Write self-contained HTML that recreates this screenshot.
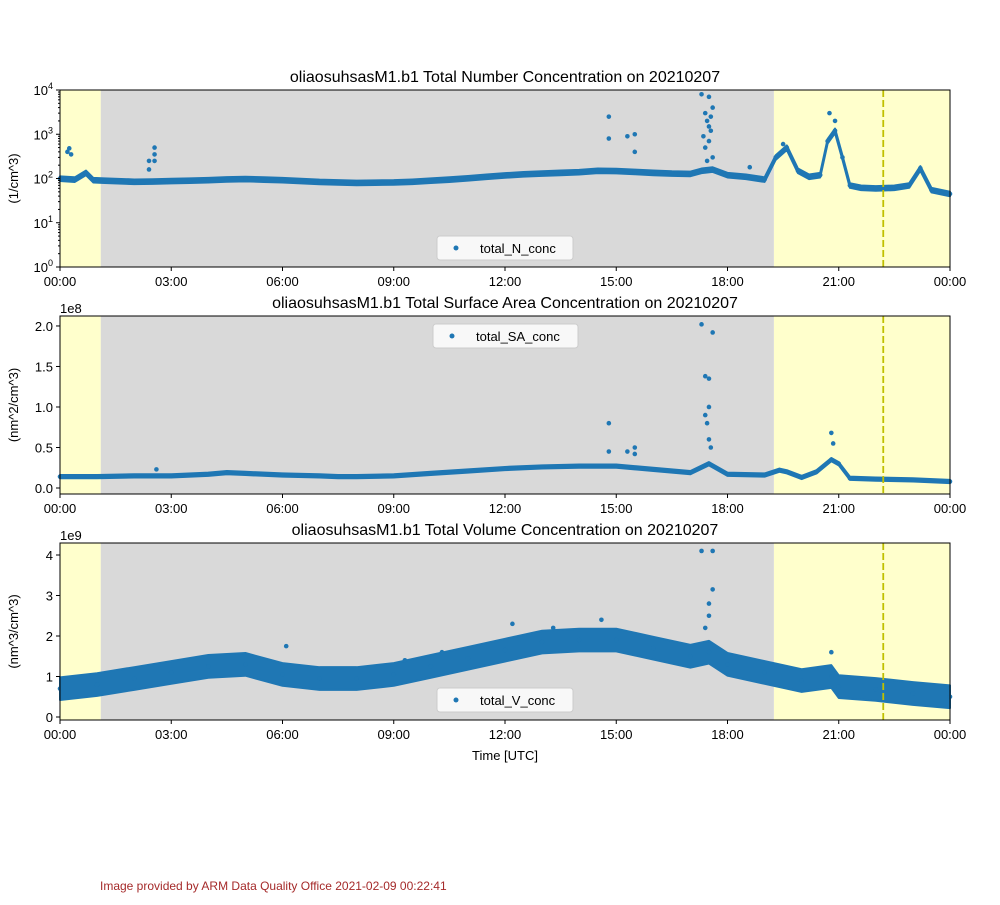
<!DOCTYPE html>
<html><head><meta charset="utf-8"><style>
body{margin:0;background:#fff;}
svg text{font-family:"Liberation Sans",sans-serif;fill:#000;}
</style></head><body>
<svg id="chart" width="1000" height="900" xmlns="http://www.w3.org/2000/svg"></svg>
<script>
// ---- data ----
const xTickLabels = ["00:00","03:00","06:00","09:00","12:00","15:00","18:00","21:00","00:00"];
const yellowSpans = [[0,1.1],[19.25,24]];
const graySpans = [[1.1,19.25]];
const dashedHour = 22.2;
// panel 1: total_N_conc (1/cm^3)
const nTimes = [0,0.4,0.7,0.9,1.2,2,2.5,3,3.5,4,4.5,5,5.5,6,6.5,7,7.5,8,8.5,9,9.5,10,10.5,11,11.5,12,12.5,13,13.5,14,14.5,15,15.5,16,16.5,17,17.3,17.6,18,18.5,19,19.3,19.6,19.9,20.2,20.5,20.7,20.9,21.1,21.3,21.6,22,22.5,22.9,23.2,23.5,24];
const nVals  = [100,95,135,92,90,85,86,88,90,92,96,98,95,92,88,84,82,80,81,82,85,90,95,102,110,118,125,130,135,140,150,148,142,135,130,128,150,160,120,110,95,300,500,150,110,120,700,1200,300,70,62,60,62,70,170,55,45];
const nOutT = [0.2,0.25,0.3,2.4,2.4,2.55,2.55,2.55,14.8,14.8,15.3,15.5,15.5,17.3,17.5,17.4,17.5,17.6,17.4,17.45,17.55,17.35,17.5,17.6,20.75,20.9,19.5,18.6,17.45,17.55];
const nOutV = [400,480,350,250,160,500,350,250,2500,800,900,1000,400,8000,7000,3000,1500,4000,500,2000,1200,900,700,300,3000,2000,600,180,250,2500];
// panel 2: total_SA_conc (1e8 nm^2/cm^3)
const sTimes = [0,1,2,3,4,4.5,5,6,7,7.5,8,9,10,11,12,13,14,15,16,17,17.5,18,19,19.4,19.6,20,20.4,20.8,21,21.3,22,23,24];
const sVals  = [0.14,0.14,0.15,0.15,0.17,0.19,0.18,0.16,0.15,0.14,0.14,0.15,0.18,0.21,0.24,0.26,0.27,0.27,0.23,0.19,0.3,0.17,0.16,0.22,0.2,0.13,0.2,0.35,0.3,0.12,0.11,0.1,0.08];
const sOutT = [17.3,17.6,17.4,17.5,17.5,17.45,17.5,14.8,14.8,15.3,15.5,15.5,20.8,20.85,2.6,17.4,17.55];
const sOutV = [2.02,1.92,1.38,1.35,1.0,0.8,0.6,0.8,0.45,0.45,0.5,0.42,0.68,0.55,0.23,0.9,0.5];
// panel 3: total_V_conc (1e9 nm^3/cm^3)
const vTimes = [0,1,2,3,4,5,6,7,8,9,10,11,12,13,14,15,16,17,17.5,18,19,20,20.8,21,22,23,24];
const vVals  = [0.7,0.8,0.95,1.1,1.25,1.3,1.05,0.95,0.95,1.05,1.25,1.45,1.65,1.85,1.9,1.9,1.7,1.5,1.6,1.3,1.1,0.9,1.0,0.75,0.68,0.58,0.5];
const vOutT = [17.3,17.6,17.6,17.5,17.5,17.4,20.8,6.1,12.2,14.6,10.3,9.3,13.3];
const vOutV = [4.1,4.1,3.15,2.8,2.5,2.2,1.6,1.75,2.3,2.4,1.6,1.4,2.2];

const svg = document.getElementById('chart');
const NS = 'http://www.w3.org/2000/svg';
function mk(tag, attrs, parent){const e=document.createElementNS(NS,tag);for(const k in attrs)e.setAttribute(k,attrs[k]);(parent||svg).appendChild(e);return e;}
const X0=60,X1=950;
const xs = h => X0 + h/24*(X1-X0);
const BLUE = '#1f77b4';

function panel(opt){
  const g = mk('g',{});
  
  
  const top=opt.top, bot=opt.bot;
  yellowSpans.forEach(s=>{const r=mk('rect',{x:xs(s[0]),y:top,width:xs(s[1])-xs(s[0]),height:bot-top,fill:'#ffffcc'},g);
    });
  graySpans.forEach(s=>{const r=mk('rect',{x:xs(s[0]),y:top,width:xs(s[1])-xs(s[0]),height:bot-top,fill:'#d9d9d9'},g);
    });
  const ys = opt.y;
  let up=[],lo=[];
  opt.t.forEach((t,i)=>{up.push(xs(t)+','+ys(opt.v[i]*opt.hi(opt.v[i])));lo.unshift(xs(t)+','+ys(opt.v[i]*opt.lo(opt.v[i])));});
  const band=mk('polygon',{points:up.concat(lo).join(' '),fill:BLUE,stroke:BLUE,'stroke-width':2,'stroke-linejoin':'round'},g);
  
  opt.t.forEach((t,i)=>{const c=mk('circle',{cx:xs(t),cy:ys(opt.v[i]),r:2.3,fill:BLUE},g);
    });
  opt.ot.forEach((t,i)=>{const c=mk('circle',{cx:xs(t),cy:ys(opt.ov[i]),r:2.3,fill:BLUE},g);
    });
  const dl=mk('line',{x1:xs(dashedHour),x2:xs(dashedHour),y1:top,y2:bot,stroke:'#bfbf00','stroke-width':1.8,'stroke-dasharray':'7,3'},g);
  
  mk('rect',{x:X0,y:top,width:X1-X0,height:bot-top,fill:'none',stroke:'#000','stroke-width':1},g);
  xTickLabels.forEach((l,i)=>{const x=xs(i*3);mk('line',{x1:x,x2:x,y1:bot,y2:bot+4,stroke:'#000'},g);
    const t=mk('text',{x:x,y:bot+19,'text-anchor':'middle','font-size':13},g);t.textContent=l;
    });
  opt.yticks.forEach(tk=>{const y=ys(tk.v);mk('line',{x1:X0-4,x2:X0,y1:y,y2:y,stroke:'#000'},g);
    const t=mk('text',{x:X0-7,y:y+5,'text-anchor':'end','font-size':13},g);
    
    if(tk.sup!==undefined){const a=mk('tspan',{},t);a.textContent='10';const b=mk('tspan',{dy:-6,'font-size':9},t);b.textContent=tk.sup;}
    else t.textContent=tk.l;});
  if(opt.minor) opt.minor.forEach(v=>{const y=ys(v);mk('line',{x1:X0-2,x2:X0,y1:y,y2:y,stroke:'#000'},g);});
  const ti=mk('text',{x:505,y:top-8,'text-anchor':'middle','font-size':16},g);ti.textContent=opt.title;
  
  const cy=(top+bot)/2;
  const yl=mk('text',{x:18,y:cy,'text-anchor':'middle','font-size':13,transform:`rotate(-90 18 ${cy})`},g);yl.textContent=opt.ylabel;
  
  if(opt.offset){const o=mk('text',{x:X0,y:top-3,'font-size':13},g);o.textContent=opt.offset;
    }
  const lg=mk('g',{},g);
  mk('rect',{x:opt.lx,y:opt.ly,width:opt.lw,height:24,rx:3,fill:'#fff','fill-opacity':0.8,stroke:'#ccc'},lg);
  mk('circle',{cx:opt.lx+19,cy:opt.ly+12,r:2.5,fill:BLUE},lg);
  const lt=mk('text',{x:opt.lx+43,y:opt.ly+17,'font-size':13},lg);lt.textContent=opt.legend;
}
const logY=(top,bot)=>v=>bot-(Math.log10(Math.max(v,1)))/4*(bot-top);
const linY=(top,bot,mn,mx)=>v=>bot-(v-mn)/(mx-mn)*(bot-top);
let minorN=[];for(let d=0;d<4;d++)for(let k=2;k<10;k++)minorN.push(k*Math.pow(10,d));
panel({name:'number-concentration-panel',top:90,bot:267,y:logY(90,267),t:nTimes,v:nVals,ot:nOutT,ov:nOutV,
  hi:v=>1.12,lo:v=>0.88,yticks:[0,1,2,3,4].map(d=>({v:Math.pow(10,d),sup:String(d)})),minor:minorN,
  title:'oliaosuhsasM1.b1 Total Number Concentration on 20210207',ylabel:'(1/cm^3)',legend:'total_N_conc',lx:437,ly:236,lw:136});
panel({name:'surface-area-panel',top:316,bot:494,y:linY(316,494,-0.074,2.123),t:sTimes,v:sVals,ot:sOutT,ov:sOutV,
  hi:v=>1+0.02/v,lo:v=>1-0.02/v,yticks:[0,0.5,1,1.5,2].map(v=>({v:v,l:v.toFixed(1)})),
  title:'oliaosuhsasM1.b1 Total Surface Area Concentration on 20210207',ylabel:'(nm^2/cm^3)',offset:'1e8',legend:'total_SA_conc',lx:433,ly:324,lw:145});
panel({name:'volume-panel',top:543,bot:720,y:linY(543,720,-0.074,4.296),t:vTimes,v:vVals,ot:vOutT,ov:vOutV,
  hi:v=>1+0.28/v,lo:v=>1-0.28/v,yticks:[0,1,2,3,4].map(v=>({v:v,l:String(v)})),
  title:'oliaosuhsasM1.b1 Total Volume Concentration on 20210207',ylabel:'(nm^3/cm^3)',offset:'1e9',legend:'total_V_conc',lx:437,ly:688,lw:136});
const xt=mk('text',{x:505,y:760,'text-anchor':'middle','font-size':13});xt.textContent='Time [UTC]';

const ft=mk('text',{x:100,y:890,'font-size':12});ft.textContent='Image provided by ARM Data Quality Office 2021-02-09 00:22:41';
ft.style.fill='#a52a2a';

</script>
</body></html>
